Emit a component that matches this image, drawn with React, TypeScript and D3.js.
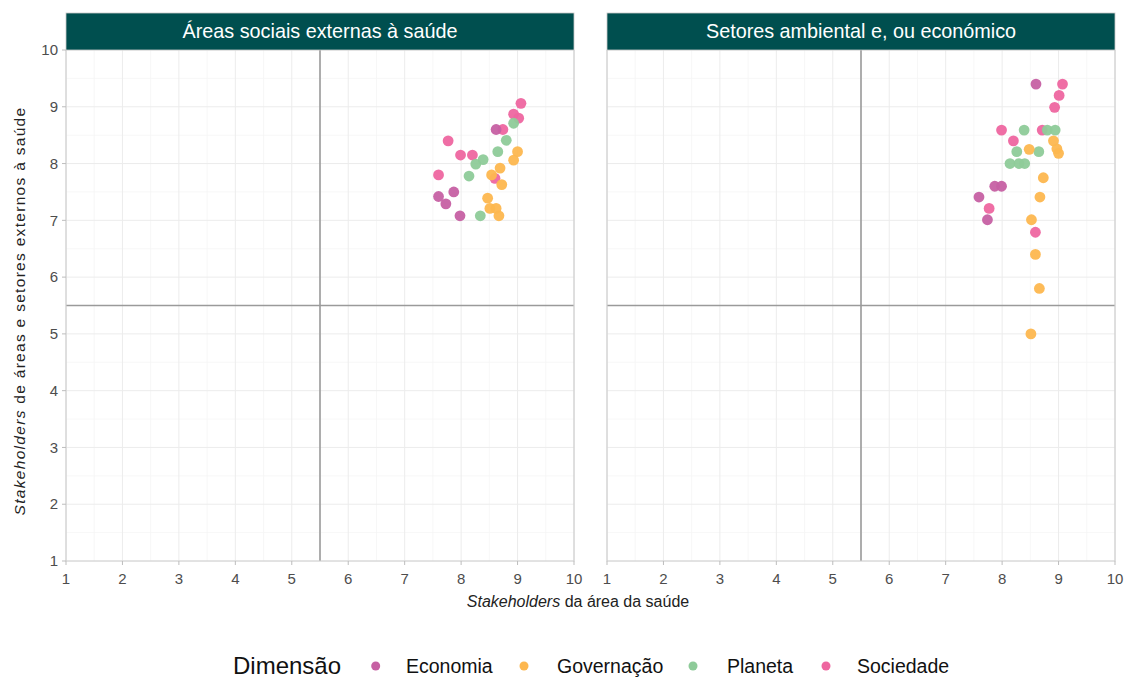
import React from "react";
import * as d3 from "d3";

const dimensions = ["Economia", "Governação", "Planeta", "Sociedade"];
const dimColors = ["#C660A3", "#FDB74F", "#8ECB99", "#EE66A0"];
const panelTitles = ["Áreas sociais externas à saúde", "Setores ambiental e, ou económico"];
const ticks = [1, 2, 3, 4, 5, 6, 7, 8, 9, 10];
const refValue = 5.5;

// Panel 1: Áreas sociais externas à saúde
const p1Dim = [
  "Sociedade", "Sociedade", "Sociedade", "Sociedade", "Sociedade", "Sociedade", "Sociedade", "Sociedade", "Sociedade",
  "Economia", "Economia", "Economia", "Economia", "Economia",
  "Planeta", "Planeta", "Planeta", "Planeta", "Planeta", "Planeta", "Planeta",
  "Governação", "Governação", "Governação", "Governação", "Governação", "Governação", "Governação", "Governação", "Governação",
];
const p1X = [
  9.06, 8.93, 9.02, 8.74, 7.77, 7.99, 8.2, 7.6, 8.6,
  8.62, 7.6, 7.87, 7.73, 7.98,
  8.93, 8.8, 8.65, 8.39, 8.26, 8.14, 8.34,
  9.0, 8.93, 8.69, 8.54, 8.72, 8.47, 8.51, 8.62, 8.67,
];
const p1Y = [
  9.06, 8.87, 8.8, 8.6, 8.4, 8.15, 8.15, 7.8, 7.74,
  8.6, 7.42, 7.5, 7.29, 7.08,
  8.71, 8.41, 8.21, 8.07, 7.99, 7.78, 7.08,
  8.21, 8.06, 7.92, 7.8, 7.63, 7.39, 7.21, 7.21, 7.08,
];

// Panel 2: Setores ambiental e, ou económico
const p2Dim = [
  "Economia", "Economia", "Economia", "Economia", "Economia",
  "Sociedade", "Sociedade", "Sociedade", "Sociedade", "Sociedade", "Sociedade", "Sociedade", "Sociedade",
  "Planeta", "Planeta", "Planeta", "Planeta", "Planeta", "Planeta", "Planeta", "Planeta",
  "Governação", "Governação", "Governação", "Governação", "Governação", "Governação", "Governação", "Governação", "Governação", "Governação",
];
const p2X = [
  8.6, 7.87, 7.99, 7.59, 7.74,
  9.07, 9.01, 8.93, 7.99, 8.71, 8.2, 7.77, 8.59,
  8.39, 8.8, 8.94, 8.26, 8.65, 8.14, 8.3, 8.4,
  8.91, 8.48, 8.97, 9.0, 8.73, 8.67, 8.52, 8.59, 8.66, 8.51,
];
const p2Y = [
  9.4, 7.6, 7.6, 7.41, 7.01,
  9.4, 9.2, 8.99, 8.59, 8.59, 8.4, 7.21, 6.79,
  8.59, 8.59, 8.59, 8.21, 8.21, 8.0, 8.0, 8.0,
  8.4, 8.25, 8.26, 8.18, 7.75, 7.41, 7.01, 6.4, 5.8, 5.0,
];

const panelsData = [
  { dim: p1Dim, xs: p1X, ys: p1Y },
  { dim: p2Dim, xs: p2X, ys: p2Y },
];

const W = 1132;
const H = 678;
const panelLefts = [66, 607];
const panelWidth = 508;
const plotTop = 50;
const plotBottom = 561;
const stripTop = 13;
const FONT = "'Liberation Sans', Arial, sans-serif";

const color = d3.scaleOrdinal<string, string>().domain(dimensions).range(dimColors);
const yScale = d3.scaleLinear().domain([1, 10]).range([plotBottom, plotTop]);
const minor = d3.range(1.5, 10, 1);

function Panel({ idx }: { idx: number }) {
  const left = panelLefts[idx];
  const x = d3.scaleLinear().domain([1, 10]).range([left, left + panelWidth]);
  const data = panelsData[idx];
  const right = left + panelWidth;
  return (
    <g>
      {minor.map((m) => (
        <g key={"m" + m}>
          <line x1={x(m)} x2={x(m)} y1={plotTop} y2={plotBottom} stroke="#f5f5f5" strokeWidth={0.8} />
          <line x1={left} x2={right} y1={yScale(m)} y2={yScale(m)} stroke="#f5f5f5" strokeWidth={0.8} />
        </g>
      ))}
      {ticks.map((t) => (
        <g key={"g" + t}>
          <line x1={x(t)} x2={x(t)} y1={plotTop} y2={plotBottom} stroke="#ececec" strokeWidth={1} />
          <line x1={left} x2={right} y1={yScale(t)} y2={yScale(t)} stroke="#ececec" strokeWidth={1} />
        </g>
      ))}
      {/* reference lines */}
      <line x1={x(refValue)} x2={x(refValue)} y1={plotTop} y2={plotBottom} stroke="#9a9a9a" strokeWidth={1.6} />
      <line x1={left} x2={right} y1={yScale(refValue)} y2={yScale(refValue)} stroke="#9a9a9a" strokeWidth={1.6} />
      {/* panel border */}
      <path
        d={`M${left},${plotTop}V${plotBottom}H${right}V${plotTop}`}
        fill="none"
        stroke="#cfcfcf"
        strokeWidth={1.2}
      />
      {/* strip */}
      <rect x={left} y={stripTop} width={panelWidth} height={plotTop - stripTop} fill="#004F4F" stroke="#c8c8c8" strokeWidth={0.8} />
      <text
        x={(left + right) / 2}
        y={(stripTop + plotTop) / 2}
        dy="0.35em"
        textAnchor="middle"
        fill="#ffffff"
        fontSize={19.8}
        fontFamily={FONT}
      >
        {panelTitles[idx]}
      </text>
      {/* x ticks */}
      {ticks.map((t) => (
        <g key={"xt" + t}>
          <line x1={x(t)} x2={x(t)} y1={plotBottom} y2={plotBottom + 4} stroke="#bdbdbd" strokeWidth={1} />
          <text x={x(t)} y={plotBottom + 18} dy="0.35em" textAnchor="middle" fill="#4d4d4d" fontSize={15} fontFamily={FONT}>
            {t}
          </text>
        </g>
      ))}
      {idx === 0 &&
        ticks.map((t) => (
          <g key={"yt" + t}>
            <line x1={left - 4} x2={left} y1={yScale(t)} y2={yScale(t)} stroke="#bdbdbd" strokeWidth={1} />
            <text x={left - 8} y={yScale(t)} dy="0.35em" textAnchor="end" fill="#4d4d4d" fontSize={15} fontFamily={FONT}>
              {t}
            </text>
          </g>
        ))}
      {data.xs.map((v, i) => (
        <circle key={"p" + i} cx={x(v)} cy={yScale(data.ys[i])} r={5.4} fill={color(data.dim[i])} fillOpacity={0.95} />
      ))}
    </g>
  );
}

export default function App() {
  const legendDotX = [375.7, 524, 693, 826];
  const legendTextX = [406, 557, 727, 857];
  const legendY = 666;
  return (
    <svg width={W} height={H} style={{ position: "absolute", left: 0, top: 0, background: "#fff" }} fontFamily={FONT}>
      <rect x={0} y={0} width={W} height={H} fill="#fff" />
      <Panel idx={0} />
      <Panel idx={1} />
      {/* x axis title */}
      <text x={578} y={601} dy="0.35em" textAnchor="middle" fill="#222" fontSize={16} fontFamily={FONT}>
        <tspan fontStyle="italic">Stakeholders</tspan>
        <tspan> da área da saúde</tspan>
      </text>
      {/* y axis title */}
      <text
        transform={`translate(20,311) rotate(-90)`}
        dy="0.35em"
        textAnchor="middle"
        fill="#222"
        fontSize={15.5}
        letterSpacing={1.3}
        fontFamily={FONT}
      >
        <tspan fontStyle="italic">Stakeholders</tspan>
        <tspan> de áreas e setores externos à saúde</tspan>
      </text>
      {/* legend */}
      <text x={233} y={legendY} dy="0.35em" fill="#111" fontSize={24} fontFamily={FONT}>
        Dimensão
      </text>
      {dimensions.map((d, i) => (
        <g key={d}>
          <circle cx={legendDotX[i]} cy={legendY} r={4.5} fill={color(d)} />
          <text x={legendTextX[i]} y={legendY} dy="0.35em" fill="#111" fontSize={19.5} fontFamily={FONT}>
            {d}
          </text>
        </g>
      ))}
    </svg>
  );
}
